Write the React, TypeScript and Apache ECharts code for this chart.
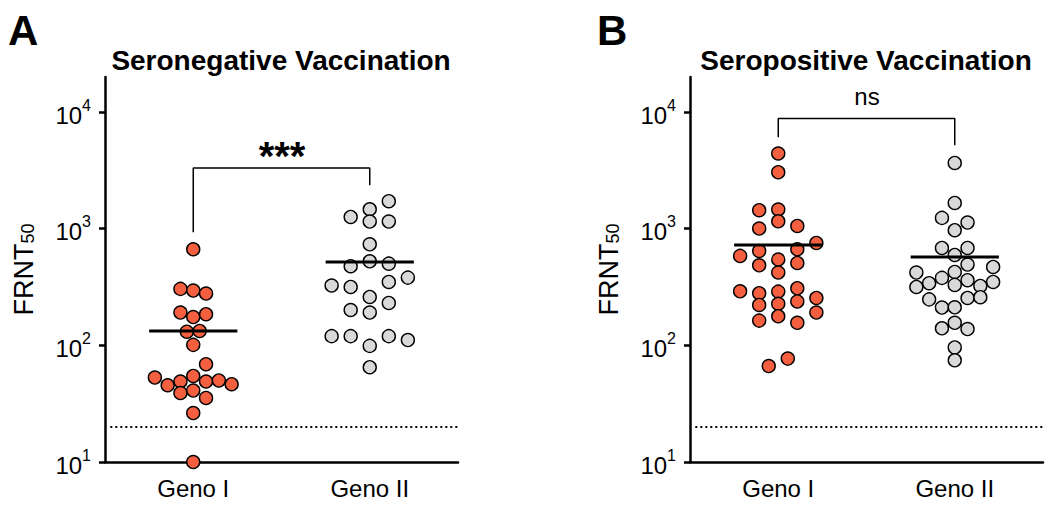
import React, { useEffect, useRef } from "react";
import * as echarts from "echarts";

const FONT = 'Arial, "Liberation Sans", Helvetica, sans-serif';

const categories = ["Geno I", "Geno II"];
const yTicks = [10, 100, 1000, 10000];
const cutoff = 20;

// Seronegative vaccination
const negGeno1 = [667, 305, 295, 278, 191, 175, 185, 131, 133, 101, 69, 53, 45.5, 49, 54.7, 49, 50, 46.5, 39, 41, 35.4, 26.3, 10];
const negGeno2 = [1722, 1469, 1262, 1153, 1153, 736, 477, 526, 502, 381, 350, 326, 317, 260, 231, 201, 191, 120, 120, 120, 111, 99, 65];
const negMeans = [133, 519];
const negBracket = [934, 3319, 2365];
const negSig = "***";

// Seropositive vaccination
const posGeno1 = [4416, 3055, 1443, 1462, 1159, 1003, 1056, 755, 645, 667, 585, 544, 486, 509, 421, 291, 280, 289, 309, 255, 222, 227, 238, 191, 163, 178, 156, 77, 66.5];
const posGeno2 = [3664, 1663, 1239, 1130, 971, 684, 684, 596, 493, 470, 421, 426, 341, 379, 362, 350, 317, 330, 323, 248, 255, 259, 211, 212, 156, 140, 138, 96, 74.5];
const posMeans = [726, 573];
const posBracket = [6100, 8810, 5200];
const posSig = "ns";

// swarm layout (column slots within each group)
const negGeno1Slot = [0, -1, 0, 1, -1, 0, 1, -0.5, 0.5, 0, 1, -3, -2, -1, 0, 1, 2, 3, -1, 0, 1, 0, 0];
const negGeno2Slot = [1, 0, -1, 0, 1, 0, -1, 0, 1, 2, 1, -2, -1, 0, 1, -1, 0, -2, -1, 1, 2, 0, 0];
const posGeno1Slot = [0, 0, -1, 0, 0, -1, 1, 2, -1, 1, -2, 0, -1, 1, 0, -2, -1, 0, 1, 2, -1, 0, 1, 2, -1, 0, 1, 0.5, -0.5];
const posGeno2Slot = [0, 0, -1, 1, 0, -1, 1, 0, 1, 3, -3, 0, -2, -1, 1, 3, -3, 0, 2, -2, 1, 2, -1, 0, 0, -1, 1, 0, 0];

const ORANGE = "#F4603F";
const GREY = "#D9D9D9";

function scatter(values: number[], slots: number[], spacing: number, group: number, color: string, gi: number) {
  return {
    type: "scatter",
    xAxisIndex: gi * 2 + 1,
    yAxisIndex: gi,
    data: values.map((v, i) => [group + slots[i] * spacing, v]),
    symbol: "circle",
    symbolSize: 13,
    itemStyle: { color, borderColor: "#000", borderWidth: 1.4, opacity: 1 },
    z: 3,
    silent: true,
  };
}

function lineSeries(data: number[][], gi: number, width: number, type: any, z: number) {
  return {
    type: "line",
    xAxisIndex: gi * 2 + 1,
    yAxisIndex: gi,
    data,
    symbol: "none",
    lineStyle: { color: "#000", width, type },
    z,
    silent: true,
  };
}

function axesFor(gi: number) {
  const x = [
    {
      type: "category",
      gridIndex: gi,
      data: categories,
      boundaryGap: true,
      axisLine: { onZero: false, lineStyle: { color: "#000", width: 2.5 } },
      axisTick: { alignWithLabel: true, length: 8, lineStyle: { color: "#000", width: 2.5 } },
      axisLabel: { fontSize: 24, color: "#000", fontFamily: FONT, margin: 14 },
      splitLine: { show: false },
    },
    { type: "value", gridIndex: gi, min: -0.5, max: 1.5, show: false },
  ];
  const y = {
    type: "log",
    logBase: 10,
    gridIndex: gi,
    min: 10,
    max: 20000,
    name: "{a|FRNT}{s|50}",
    nameLocation: "middle",
    nameRotate: 90,
    nameGap: 68,
    nameTextStyle: {
      fontSize: 27,
      fontFamily: FONT,
      color: "#000",
      rich: {
        a: { fontSize: 27, fontFamily: FONT, color: "#000", lineHeight: 30, verticalAlign: "bottom" },
        s: { fontSize: 18, fontFamily: FONT, color: "#000", lineHeight: 22, verticalAlign: "bottom" },
      },
    },
    axisLine: { show: true, onZero: false, lineStyle: { color: "#000", width: 2.5 } },
    axisTick: { show: true, customValues: yTicks, length: 6, lineStyle: { color: "#000", width: 2.5 } },
    axisLabel: {
      customValues: yTicks,
      margin: 14,
      fontSize: 24,
      fontFamily: FONT,
      color: "#000",
      formatter: (v: number) => `{b|10}{sup|${Math.round(Math.log10(v))}}`,
      rich: {
        b: { fontSize: 24, fontFamily: FONT, color: "#000", lineHeight: 30, verticalAlign: "bottom" },
        sup: { fontSize: 16, fontFamily: FONT, color: "#000", lineHeight: 16, verticalAlign: "top" },
      },
    },
    splitLine: { show: false },
  };
  return { x, y };
}

export default function App() {
  const ref = useRef<HTMLDivElement>(null);
  useEffect(() => {
    if (!ref.current) return;
    const chart = echarts.init(ref.current, null, { renderer: "svg" });
    const a = axesFor(0);
    const b = axesFor(1);
    const SP_NARROW = 0.0725;
    const SP_WIDE = 0.108;
    const option: any = {
      animation: false,
      backgroundColor: "#fff",
      grid: [
        { left: 105, top: 77, width: 353, height: 385 },
        { left: 690, top: 77, width: 353, height: 385 },
      ],
      xAxis: [...a.x, ...b.x],
      yAxis: [a.y, b.y],
      series: [
        lineSeries([[-0.47, cutoff], [1.5, cutoff]], 0, 2, [2, 3], 2),
        lineSeries([[-0.47, cutoff], [1.5, cutoff]], 1, 2, [2, 3], 2),
        lineSeries([[0, negBracket[0]], [0, negBracket[1]], [1, negBracket[1]], [1, negBracket[2]]], 0, 1.5, "solid", 2),
        lineSeries([[0, posBracket[0]], [0, posBracket[1]], [1, posBracket[1]], [1, posBracket[2]]], 1, 1.5, "solid", 2),
        scatter(negGeno1, negGeno1Slot, SP_NARROW, 0, ORANGE, 0),
        scatter(negGeno2, negGeno2Slot, SP_WIDE, 1, GREY, 0),
        scatter(posGeno1, posGeno1Slot, SP_WIDE, 0, ORANGE, 1),
        scatter(posGeno2, posGeno2Slot, SP_NARROW, 1, GREY, 1),
        ...negMeans.map((m, g) => lineSeries([[g - 0.25, m], [g + 0.25, m]], 0, 3, "solid", 5)),
        ...posMeans.map((m, g) => lineSeries([[g - 0.25, m], [g + 0.25, m]], 1, 3, "solid", 5)),
      ],
      graphic: [
        { type: "text", x: 8, y: 30, style: { text: "A", font: `bold 42px ${FONT}`, fill: "#000", align: "left", verticalAlign: "middle" } },
        { type: "text", x: 597, y: 30, style: { text: "B", font: `bold 42px ${FONT}`, fill: "#000", align: "left", verticalAlign: "middle" } },
        { type: "text", x: 281, y: 60.5, style: { text: "Seronegative Vaccination", font: `bold 28px ${FONT}`, fill: "#000", align: "center", verticalAlign: "middle" } },
        { type: "text", x: 866, y: 60.5, style: { text: "Seropositive Vaccination", font: `bold 28px ${FONT}`, fill: "#000", align: "center", verticalAlign: "middle" } },
        { type: "text", x: 282, y: 156, style: { text: negSig, font: `bold 40px ${FONT}`, fill: "#000", align: "center", verticalAlign: "middle" } },
        { type: "text", x: 867, y: 96, style: { text: posSig, font: `24px ${FONT}`, fill: "#000", align: "center", verticalAlign: "middle" } },
      ],
    };
    chart.setOption(option);
    return () => chart.dispose();
  }, []);
  return (
    <div
      ref={ref}
      style={{ position: "fixed", left: 0, top: 0, width: 1050, height: 508, background: "#fff" }}
    />
  );
}
